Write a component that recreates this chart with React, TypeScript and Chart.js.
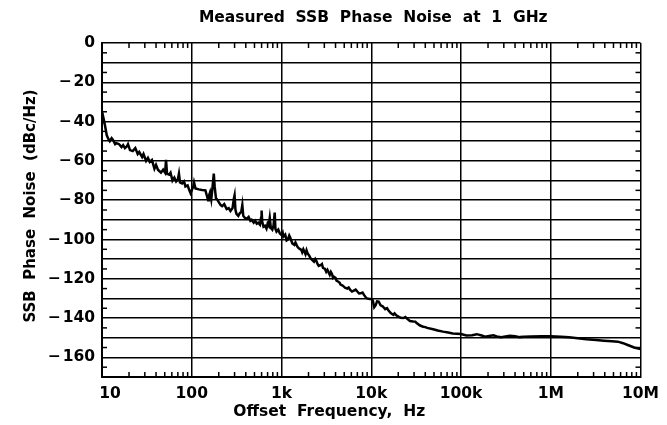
import React, { useEffect, useRef } from "react";
import { Chart, registerables } from "chart.js";

Chart.register(...registerables);

const TITLE = "Measured  SSB  Phase  Noise  at  1  GHz";
const X_TITLE = "Offset  Frequency,  Hz";
const Y_TITLE = "SSB  Phase  Noise  (dBc/Hz)";

const X_DECADES = [10, 100, 1e3, 1e4, 1e5, 1e6, 1e7];
const X_DECADE_LABELS = ["   10", "100", "1k", "10k", "100k", "1M", "10M"];

const Y_MIN = -170;
const Y_MAX = 0;
const Y_LABEL_VALUES = [0, -20, -40, -60, -80, -100, -120, -140, -160];

const FREQ_HZ = [
  10, 10.3, 10.7, 11.3, 11.8, 12.2, 12.8, 13.3, 14, 14.5, 15.5, 16.5, 17.2, 18, 19, 19.5,
  20.5, 22, 23.5, 25, 26, 28, 29, 31, 32.5, 34, 36, 38.4, 40, 42, 45.4, 48, 50.5, 51.7, 53, 56, 58, 61, 64, 67, 70, 72, 74, 78, 82, 85, 90, 94, 97,
  100, 104, 106, 110, 120, 130, 142, 148, 152, 155, 160, 165, 170, 176, 180, 186, 191, 200, 210, 218, 230, 245, 258, 270, 285, 295, 300, 307, 315, 330, 345, 356, 366, 375, 390, 410, 430, 450, 465, 490, 510, 530, 550, 575, 592, 600, 610, 630, 655, 680, 700, 720, 740, 760, 790, 815, 840, 855, 880, 920, 960,
  1000, 1030, 1050, 1100, 1140, 1180, 1220, 1250, 1320, 1390, 1430, 1480, 1520, 1560, 1660, 1700, 1750, 1850, 1900, 1950, 2050, 2100, 2150, 2300, 2380, 2450, 2520, 2600, 2750, 2820, 2900, 3050, 3150, 3250, 3450, 3550, 3650, 3750, 3850, 4000, 4100, 4300, 4450, 4550, 4800, 4950, 5100, 5400, 5600, 5800, 6100, 6400, 6700, 7000, 7300, 7600, 8000, 8300, 8700, 9000, 9600,
  10000, 10400, 10800, 11200, 11600, 12100, 12700, 13400, 14300, 15000, 15500, 16500, 17600, 18200, 19000, 20500, 21500, 22800, 24000, 25000, 27000, 29400, 31000, 32000, 35000, 37900, 40000, 42000, 48900, 55000, 63000, 72000, 81000,
  100000, 115000, 133000, 150000, 170000, 185000, 205000, 230000, 250000, 280000, 313000, 350000, 400000, 450000, 500000, 600000, 800000, 1000000,
  1300000, 1600000, 2000000, 2500000, 3200000, 3900000, 4800000, 5600000, 6400000, 7200000, 8500000, 10000000,
];

const NOISE_DBC = [
  -41, -37.5, -41, -47, -49, -50, -48.5, -49.5, -51.5, -51, -51.5, -53, -52, -53.5, -52.5, -51.5,
  -54.5, -55, -53.5, -56.5, -55.5, -58, -56.5, -60, -58.5, -60.5, -59.5, -64, -62, -64.5, -66, -64.5, -66, -59.5, -66.5, -67, -66, -70, -68.5, -70.5, -69.5, -66.5, -71, -71.5, -70.5, -73, -72.5, -75, -76.5,
  -75, -73, -71, -74, -74.5, -74.8, -75, -78, -80, -78, -76, -79.5, -74, -66.5, -73, -79, -79.5, -81, -82.5, -83, -82, -84.5, -84, -85.5, -84, -79, -77.5, -85, -87, -88, -86.5, -86, -82.5, -88, -89, -89.5, -88.5, -90.5, -90, -91.5, -90.5, -92, -91.5, -92.5, -89, -85.3, -91, -93.5, -93, -94.5, -92, -93, -89, -94, -95, -93, -86.3, -94.5, -96, -95, -97,
  -97.7, -96.5, -98.5, -97.5, -100.5, -100, -98, -99, -102, -102.7, -101.5, -103, -104, -104.5, -105.3, -106.5, -105, -107.5, -105.5, -107, -108.5, -109.5, -110, -111.3, -110, -111, -112.5, -113.5, -113, -112.5, -114.5, -115, -116.5, -115.5, -118, -116.5, -117.5, -119.5, -119, -119.5, -121, -121.5, -122, -123, -123.5, -124, -124.5, -125, -124.5, -125.5, -126.5, -126, -125.5, -126.5, -127.5, -127.4, -127, -128.2, -129.5, -130, -130.3,
  -130.3, -131, -134.5, -133.5, -131.5, -131.6, -133.5, -134, -135.5, -135, -136, -137.5, -138.4, -137.6, -138.6, -139.5, -139.8, -140, -139.5, -140.3, -141.5, -141.7, -141.8, -142.5, -143.8, -144.4, -144.6, -145, -145.7, -146.3, -146.9, -147.4, -147.8,
  -148.1, -148.9, -148.7, -148.2, -148.9, -149.5, -149.1, -148.8, -149.4, -149.8, -149.4, -149.0, -149.3, -149.7, -149.5, -149.4, -149.3, -149.3,
  -149.5, -149.8, -150.3, -150.8, -151.2, -151.5, -151.8, -152, -152.8, -153.7, -155, -155.8,
];

const FONT_FAMILY = "'DejaVu Sans', 'Liberation Sans', Arial, sans-serif";

const isDecade = (v: number) => {
  const l = Math.log10(v);
  return Math.abs(l - Math.round(l)) < 1e-9;
};

const decorPlugin = {
  id: "decor",
  afterDraw(chart: any) {
    const { ctx, chartArea: a, scales } = chart;
    const xs = scales.x;
    const ys = scales.y;
    ctx.save();
    ctx.strokeStyle = "#000";
    ctx.lineWidth = 1.5;
    const seg = (x1: number, y1: number, x2: number, y2: number) => {
      ctx.beginPath();
      ctx.moveTo(x1, y1);
      ctx.lineTo(x2, y2);
      ctx.stroke();
    };
    // inward minor ticks on the left and right borders (5 dB)
    for (let v = Y_MIN + 5; v < Y_MAX; v += 10) {
      const py = ys.getPixelForValue(v);
      seg(a.left, py, a.left + 5, py);
      seg(a.right - 5, py, a.right, py);
    }
    // inward minor ticks on top and bottom borders (2..9 per decade)
    for (let d = 0; d < X_DECADES.length - 1; d++) {
      for (let m = 2; m <= 9; m++) {
        const px = xs.getPixelForValue(X_DECADES[d] * m);
        seg(px, a.bottom, px, a.bottom - 5);
        seg(px, a.top, px, a.top + 5);
      }
    }
    // titles
    ctx.fillStyle = "#000";
    ctx.textAlign = "center";
    ctx.textBaseline = "middle";
    ctx.font = `bold 15.5px ${FONT_FAMILY}`;
    ctx.fillText(TITLE, (a.left + a.right) / 2 + 2, 18);
    ctx.fillText(X_TITLE, (a.left + a.right) / 2 - 42, 412);
    ctx.translate(31, (a.top + a.bottom) / 2 - 4);
    ctx.rotate(-Math.PI / 2);
    ctx.font = `bold 15px ${FONT_FAMILY}`;
    ctx.fillText(Y_TITLE, 0, 0);
    ctx.restore();
  },
};

export default function App() {
  const canvasRef = useRef<HTMLCanvasElement | null>(null);

  useEffect(() => {
    if (!canvasRef.current) return;
    const chart = new Chart(canvasRef.current, {
      type: "line",
      data: {
        datasets: [
          {
            data: FREQ_HZ.map((f, i) => ({ x: f, y: NOISE_DBC[i] })),
            borderColor: "#000",
            borderWidth: 2.5,
            pointRadius: 0,
            tension: 0,
            fill: false,
          },
        ],
      },
      options: {
        animation: false,
        responsive: false,
        devicePixelRatio: 1,
        layout: { padding: { top: 43, right: 21, left: 0, bottom: 0 } },
        plugins: {
          legend: { display: false },
          tooltip: { enabled: false },
          title: { display: false },
        },
        scales: {
          x: {
            type: "logarithmic",
            min: 10,
            max: 1e7,
            afterFit: (s: any) => {
              s.height = 48;
            },
            border: { display: true, color: "#000", width: 2 },
            grid: {
              drawTicks: false,
              lineWidth: 1.5,
              color: (c: any) => (c.tick && isDecade(c.tick.value) ? "#000" : "rgba(0,0,0,0)"),
            },
            ticks: {
              autoSkip: false,
              maxRotation: 0,
              minRotation: 0,
              padding: 8,
              color: "#000",
              font: { family: FONT_FAMILY, size: 15.5, weight: "bold" },
              callback: (value: any) => {
                const v = Number(value);
                if (!isDecade(v)) return "";
                const idx = X_DECADES.findIndex((d) => Math.abs(d - v) / d < 1e-6);
                return idx >= 0 ? X_DECADE_LABELS[idx] : "";
              },
            },
          },
          y: {
            type: "linear",
            min: Y_MIN,
            max: Y_MAX,
            afterFit: (s: any) => {
              s.width = 102;
            },
            border: { display: true, color: "#000", width: 2 },
            grid: {
              drawTicks: false,
              lineWidth: 1.5,
              color: (c: any) =>
                c.tick && Math.round(c.tick.value) % 10 === 0 ? "#000" : "rgba(0,0,0,0)",
            },
            ticks: {
              stepSize: 5,
              autoSkip: false,
              padding: 7,
              color: "#000",
              font: { family: FONT_FAMILY, size: 15.5, weight: "bold" },
              callback: (value: any) => {
                const v = Math.round(Number(value));
                if (!Y_LABEL_VALUES.includes(v)) return "";
                return v === 0 ? "0" : "\u2212\u200A" + String(Math.abs(v));
              },
            },
          },
        },
      },
      plugins: [decorPlugin],
    });
    return () => chart.destroy();
  }, []);

  return (
    <div style={{ position: "absolute", left: 0, top: 0, width: 667, height: 425, background: "#fff" }}>
      <canvas ref={canvasRef} width={667} height={425} style={{ width: 667, height: 425 }} />
    </div>
  );
}
